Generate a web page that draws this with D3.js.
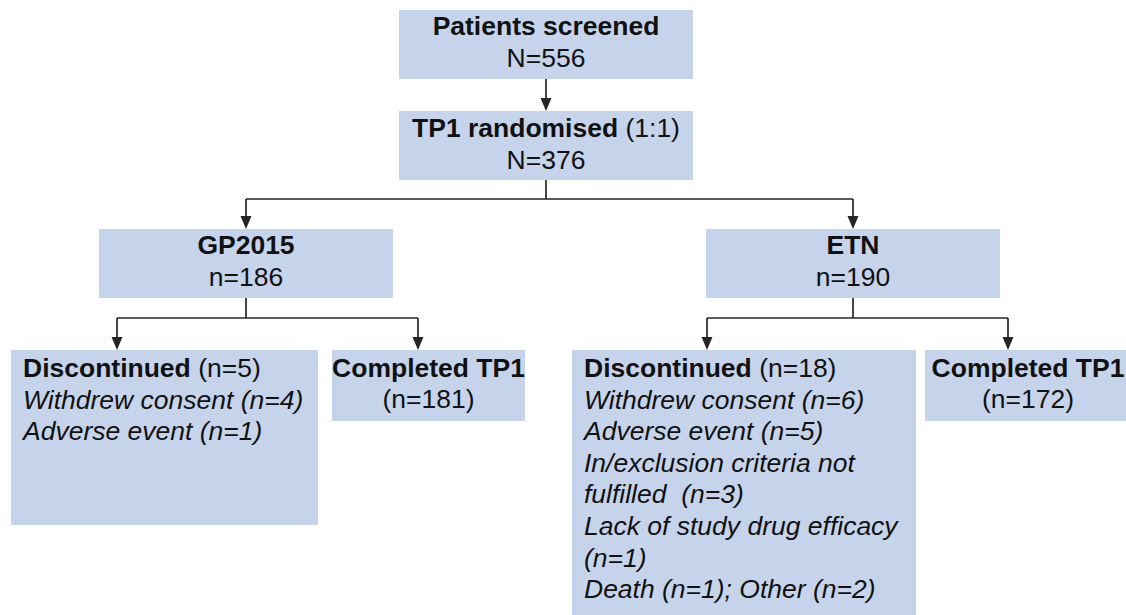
<!DOCTYPE html>
<html>
<head>
<meta charset="utf-8">
<script src="https://cdn.jsdelivr.net/npm/d3@7"></script>
<style>
  html, body { margin: 0; padding: 0; background: #ffffff; }
  svg { display: block; }
  text { font-family: "Liberation Sans", Arial, sans-serif; fill: #111111; }
</style>
</head>
<body>
<svg id="chart" width="1126" height="615"></svg>
<script>
// ---- Data ----
const screenedN = 556;
const randomisedN = 376;
const randomisationRatio = "1:1";
const armNames = ["GP2015", "ETN"];
const armN = [186, 190];
const discontinuedN = [5, 18];
const completedN = [181, 172];
const reasonsGP2015 = ["Withdrew consent (n=4)", "Adverse event (n=1)"];
const reasonsETN = [
  "Withdrew consent (n=6)",
  "Adverse event (n=5)",
  "In/exclusion criteria not",
  "fulfilled  (n=3)",
  "Lack of study drug efficacy",
  "(n=1)",
  "Death (n=1); Other (n=2)"
];
const armReasons = [reasonsGP2015, reasonsETN];

// ---- Layout ----
const W = 1126, H = 615;
const svg = d3.select("#chart");
const fill = "#c6d4eb";
const lineColor = "#262626";
const fs = 25;
const sx = 1.06;   // slight horizontal stretch seen in the reference
const lh = 31.6;

// horizontal positions via scales
const armX = d3.scaleOrdinal().domain(armNames).range([246, 853]);
const armBoxW = 294;
const topX = 546;

const y = {
  box1: [10, 79],
  box2: [111, 180],
  split1: 199,
  arm: [229, 298],
  split2: 318,
  sub: 350
};

function box(x0, y0, x1, y1) {
  svg.append("rect")
    .attr("x", x0).attr("y", y0)
    .attr("width", x1 - x0).attr("height", y1 - y0)
    .attr("fill", fill);
}

function line(points) {
  svg.append("path")
    .attr("d", d3.line()(points))
    .attr("fill", "none")
    .attr("stroke", lineColor)
    .attr("stroke-width", 1.7);
}

function arrowHead(x, yTip) {
  const hw = 5.5, hl = 13;
  svg.append("path")
    .attr("d", d3.line()([[x - hw, yTip - hl], [x + hw, yTip - hl], [x, yTip]]) + "Z")
    .attr("fill", lineColor);
}

function arrow(x, y0, y1) {
  line([[x, y0], [x, y1 - 8]]);
  arrowHead(x, y1);
}

function addText(x, baseline, anchor, parts) {
  const t = svg.append("text")
    .attr("transform", `translate(${x},${baseline}) scale(${sx},1)`)
    .attr("text-anchor", anchor)
    .attr("font-size", fs)
    .attr("xml:space", "preserve");
  parts.forEach(p => {
    t.append("tspan")
      .attr("font-weight", p.bold ? "bold" : "normal")
      .attr("font-style", p.italic ? "italic" : "normal")
      .text(p.text);
  });
  return t;
}
const centeredText = (cx, b, parts) => addText(cx, b, "middle", parts);
const leftText = (x, b, parts) => addText(x, b, "start", parts);

// ---- Top boxes ----
box(topX - armBoxW / 2, y.box1[0], topX + armBoxW / 2, y.box1[1]);
centeredText(topX, y.box1[0] + 25, [{ text: "Patients screened", bold: true }]);
centeredText(topX, y.box1[0] + 57, [{ text: "N=" + screenedN }]);

arrow(topX, y.box1[1], y.box2[0]);

box(topX - armBoxW / 2, y.box2[0], topX + armBoxW / 2, y.box2[1]);
centeredText(topX, y.box2[0] + 26, [
  { text: "TP1 randomised", bold: true },
  { text: " (" + randomisationRatio + ")" }
]);
centeredText(topX, y.box2[0] + 58, [{ text: "N=" + randomisedN }]);

// split to arms
line([[topX, y.box2[1]], [topX, y.split1]]);
line([[armX(armNames[0]), y.split1], [armX(armNames[1]), y.split1]]);
armNames.forEach(a => arrow(armX(a), y.split1, y.arm[0]));

// ---- Arm boxes ----
armNames.forEach((a, i) => {
  const cx = armX(a);
  box(cx - armBoxW / 2, y.arm[0], cx + armBoxW / 2, y.arm[1]);
  centeredText(cx, y.arm[0] + 25, [{ text: a, bold: true }]);
  centeredText(cx, y.arm[0] + 57, [{ text: "n=" + armN[i] }]);
});

// ---- Sub boxes ----
const subLayout = [
  { disc: [11, 318, 525], discArrow: 117, comp: [332, 525, 421], compArrow: 418 },
  { disc: [572, 916, H + 5], discArrow: 707, comp: [925, W + 5, 421], compArrow: 1008 }
];

armNames.forEach((a, i) => {
  const L = subLayout[i];
  const cx = armX(a);
  line([[cx, y.arm[1]], [cx, y.split2]]);
  line([[L.discArrow, y.split2], [L.compArrow, y.split2]]);
  arrow(L.discArrow, y.split2, y.sub);
  arrow(L.compArrow, y.split2, y.sub);

  // discontinued box
  box(L.disc[0], y.sub, L.disc[1], L.disc[2]);
  const tx = L.disc[0] + 12;
  const b0 = y.sub + 27;
  leftText(tx, b0, [
    { text: "Discontinued", bold: true },
    { text: " (n=" + discontinuedN[i] + ")" }
  ]);
  armReasons[i].forEach((r, k) => {
    leftText(tx, b0 + (k + 1) * lh, [{ text: r, italic: true }]);
  });

  // completed box
  box(L.comp[0], y.sub, L.comp[1], L.comp[2]);
  const ccx = i === 0 ? (L.comp[0] + L.comp[1]) / 2 : 1028;
  centeredText(ccx, y.sub + 27, [{ text: "Completed TP1", bold: true }]);
  centeredText(ccx, y.sub + 58, [{ text: "(n=" + completedN[i] + ")" }]);
});
</script>
</body>
</html>
